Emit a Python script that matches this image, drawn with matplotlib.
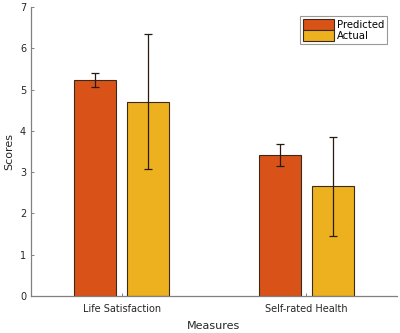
import numpy as np
import matplotlib
matplotlib.use('Agg')
import matplotlib.pyplot as plt

# data
measures = ['Life Satisfaction', 'Self-rated Health']
predicted = [5.23, 3.42]
predicted_err = [0.17, 0.27]
actual = [4.71, 2.66]
actual_err = [1.64, 1.20]

col_pred = '#D95319'
col_act = '#EDB120'
txt = '#262626'

fig = plt.figure(figsize=(4, 3.33), dpi=100)
ax = fig.add_axes([0.0775, 0.111, 0.915, 0.868])

x = np.arange(1, len(measures) + 1)
w = 0.23
off = 0.143
ax.bar(x - off, predicted, w, color=col_pred, edgecolor='#3a2a1a', linewidth=0.8,
       label='Predicted')
ax.bar(x + off, actual, w, color=col_act, edgecolor='#3a2a1a', linewidth=0.8,
       label='Actual')
ax.errorbar(x - off, predicted, yerr=predicted_err, fmt='none', ecolor='#2b1a10',
            elinewidth=0.9, capsize=3, capthick=0.9)
ax.errorbar(x + off, actual, yerr=actual_err, fmt='none', ecolor='#2b1a10',
            elinewidth=0.9, capsize=3, capthick=0.9)

ax.set_xlim(0.51, 2.49)
ax.set_ylim(0, 7)
ax.set_xticks(x)
ax.set_xticklabels(measures)
ax.set_yticks(range(0, 8))

for s in ['top', 'right']:
    ax.spines[s].set_visible(False)
for s in ['left', 'bottom']:
    ax.spines[s].set_color('#808080')
    ax.spines[s].set_linewidth(0.9)
ax.tick_params(direction='in', length=2.5, width=0.7, colors='#808080',
               labelcolor=txt, labelsize=7)
ax.tick_params(axis='x', pad=6)

ax.set_xlabel('Measures', fontsize=8, color=txt, labelpad=5)
ax.set_ylabel('Scores', fontsize=8, color=txt, labelpad=4)

leg = ax.legend(loc='upper right', bbox_to_anchor=(0.973, 0.969), fontsize=7.3,
                frameon=True, fancybox=False, handlelength=3.0, handleheight=1.25,
                handletextpad=0.3, borderpad=0.3, labelspacing=0.05,
                borderaxespad=0)
leg.get_frame().set_edgecolor('#808080')
leg.get_frame().set_linewidth(0.8)

fig.savefig('out.png', dpi=100)
